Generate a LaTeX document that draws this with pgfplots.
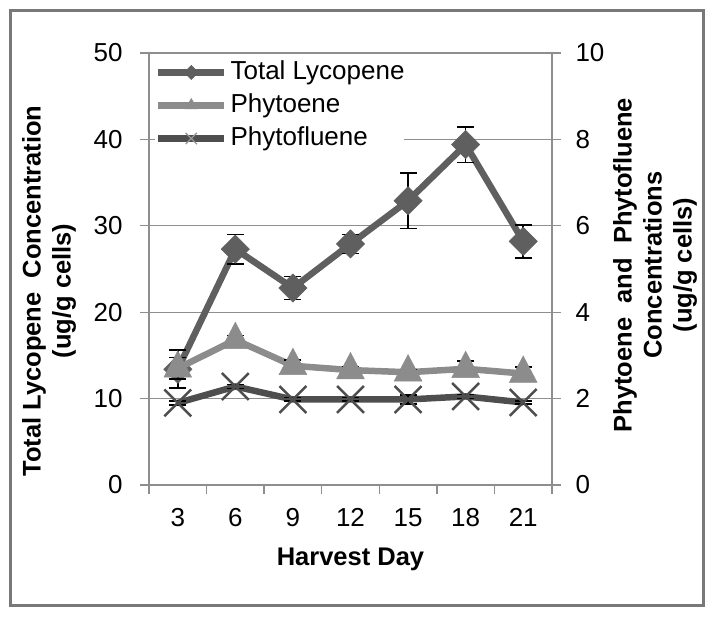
\documentclass[border=0pt]{standalone}
\usepackage{pgfplots}
\pgfplotsset{compat=1.18}
\usepackage{fontspec}
\setmainfont{Liberation Sans}
\definecolor{lyc}{HTML}{5F5F5F}
\definecolor{phe}{HTML}{8C8C8C}
\definecolor{phf}{HTML}{4E4E4E}
\definecolor{gridc}{HTML}{8E8E8E}
\newcommand{\fs}{\fontsize{26bp}{30bp}\selectfont}
\newcommand{\fl}{\bfseries\fontsize{25.5bp}{30bp}\selectfont}
\pgfdeclareplotmark{cap}{\pgfpathmoveto{\pgfqpoint{0pt}{-8.5bp}}\pgfpathlineto{\pgfqpoint{0pt}{8.5bp}}\pgfusepathqstroke}

\pgfplotstableread{
x y e
0 13.4 2.2
1 27.3 1.7
2 22.8 1.35
3 27.9 1.1
4 32.9 3.2
5 39.4 2.05
6 28.2 1.9
}\lyctab
\pgfplotstableread{
x y e
0 2.70 0.25
1 3.36 0.10
2 2.76 0.13
3 2.66 0.08
4 2.61 0.06
5 2.69 0.18
6 2.58 0.15
}\phetab
\pgfplotstableread{
x y e
0 1.90 0.05
1 2.28 0.05
2 1.98 0.04
3 1.98 0.04
4 1.98 0.10
5 2.05 0.05
6 1.91 0.04
}\phftab

\pgfplotsset{
  base/.style={
    scale only axis, width=403bp, height=432bp,
    at={(149bp,133bp)}, anchor=south west,
    xmin=-0.5, xmax=6.5, ymin=0,
    tick label style={font=\fs},
    /pgf/number format/assume math mode=true,
    axis line style={gridc, line width=1.3bp},
    tick style={gridc, line width=1.3bp},
    tick align=outside,
    major tick length=9bp,
  },
  ebar/.style={/pgfplots/error bars/.cd, y dir=both, y explicit,
    error bar style={black, line width=1.5bp},
    error mark=cap,
    error mark options={black, line width=1.5bp}},
  lycline/.style={lyc, line width=6.5bp, mark=square*},
  pheline/.style={phe, line width=6.5bp, mark=triangle*},
  phfline/.style={phf, line width=6.5bp, mark=x},
}

\begin{document}
\begin{tikzpicture}
\useasboundingbox (0,0) rectangle (714bp,618bp);
\draw[line width=3bp, color=gray!95!black] (10bp,12bp) rectangle (703bp,607bp);
\begin{axis}[base, ymax=50,
  axis x line*=bottom, axis y line*=left,
  xtick={-0.5,0.5,...,6.5}, xticklabels={},
  extra x ticks={0,1,2,3,4,5,6},
  extra x tick labels={3,6,9,12,15,18,21},
  extra x tick style={major tick length=0pt, tick label style={yshift=-20bp}},
  ytick={0,10,...,50},
  yticklabel style={xshift=-14bp},
  ymajorgrids, major grid style={gridc, line width=1.3bp},
  ylabel={Total Lycopene\ \ Concentration\\(ug/g cells)},
  ylabel style={font=\fl, align=center, at={(axis description cs:-0.248,0.449)}, anchor=center},
  xlabel={Harvest Day},
  xlabel style={font=\fl, at={(axis description cs:0.5,-0.172)}, anchor=center},
]
\addplot[lycline, mark size=10bp, mark options={rotate=45, solid, fill=lyc, draw=lyc, line width=0.5bp}, ebar]
  table[x=x, y=y, y error=e] {\lyctab};
\end{axis}
\begin{axis}[base, ymax=10,
  axis y line*=right, axis x line=none,
  ytick={0,2,...,10},
  yticklabel style={xshift=11bp},
  ylabel={Phytoene\ \ and\ \ Phytofluene\\Concentrations\\(ug/g cells)},
  ylabel style={font=\fl, align=center, at={(axis description cs:1.256,0.509)}, anchor=center},
]
\addplot[pheline, mark size=16bp, mark options={solid, fill=phe, draw=phe, line width=0.5bp, yscale=1.1}, ebar]
  table[x=x, y=y, y error=e] {\phetab};
\addplot[phfline, mark size=19bp, mark options={solid, draw=phf, line width=2.5bp}, ebar]
  table[x=x, y=y, y error=e] {\phftab};
\end{axis}
\begin{axis}[base, ymax=10, hide axis,
  legend style={at={(axis description cs:0.015,0.985)}, anchor=north west,
    draw=none, fill=white, inner sep=0pt, outer sep=0pt, font=\fs,
    row sep=7bp,
    nodes={text height=20bp, text depth=6bp, inner sep=0pt},
    /tikz/every odd column/.append style={column sep=3bp}},
  legend cell align=left,
  legend image code/.code={\draw[#1, mark repeat=2, mark phase=2] plot coordinates {(0bp,0bp) (33bp,0bp) (66bp,0bp)};},
]
\addlegendimage{lycline, mark size=5bp, mark options={rotate=45, solid, fill=lyc, draw=lyc, line width=0.5bp}}
\addlegendentry{Total Lycopene}
\addlegendimage{pheline, mark size=7bp, mark options={solid, fill=phe, draw=phe, line width=0.5bp}}
\addlegendentry{Phytoene}
\addlegendimage{phfline, mark size=8bp, mark options={solid, draw=phf!60, line width=1.2bp}}
\addlegendentry{Phytofluene}
\end{axis}
\end{tikzpicture}
\end{document}
